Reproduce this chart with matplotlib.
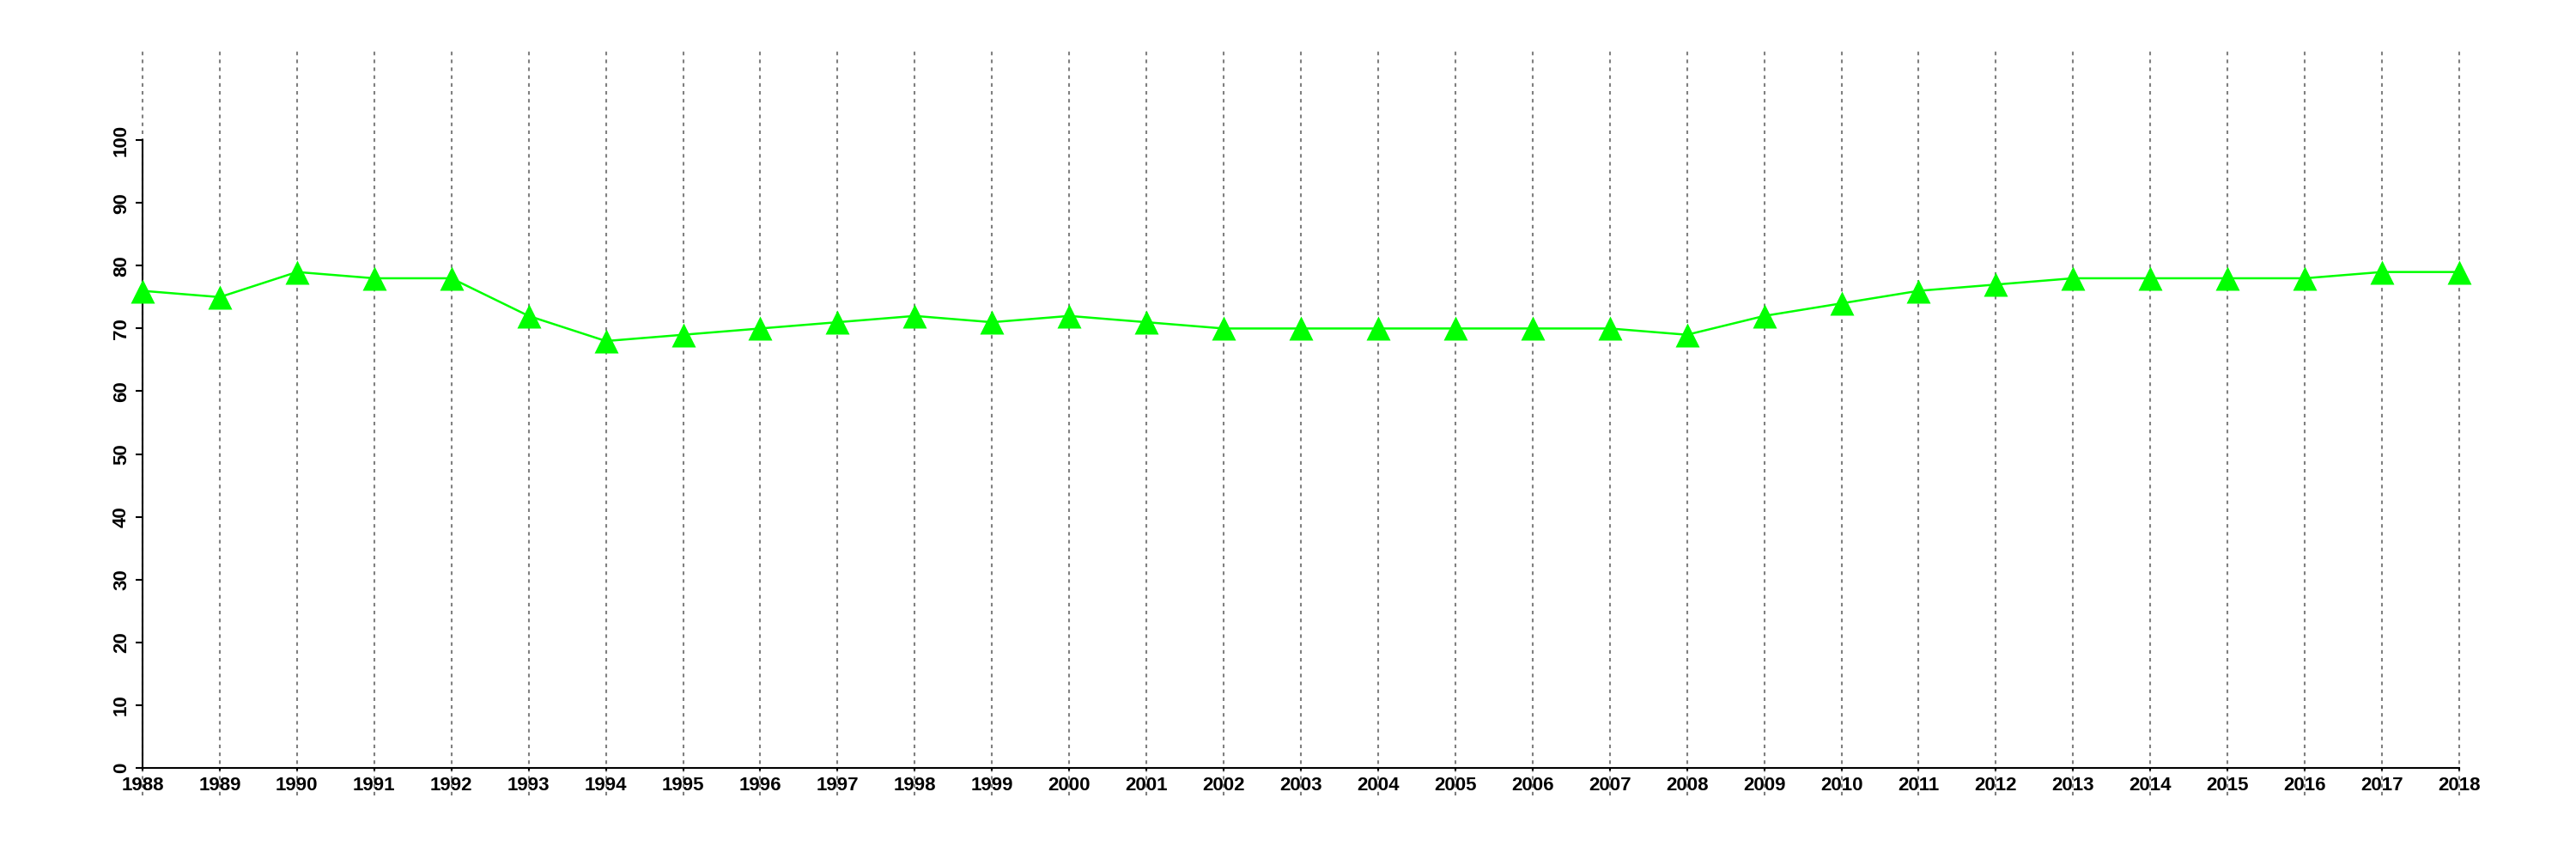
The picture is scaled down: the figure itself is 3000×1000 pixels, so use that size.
import matplotlib
matplotlib.use("Agg")
import matplotlib.pyplot as plt

years = list(range(1988, 2019))
values = [76, 75, 79, 78, 78, 72, 68, 69, 70, 71, 72, 71, 72, 71, 70, 70,
          70, 70, 70, 70, 69, 72, 74, 76, 77, 78, 78, 78, 78, 79, 79]
yticks = list(range(0, 101, 10))

plt.rcParams['font.family'] = ['Liberation Sans', 'DejaVu Sans']

fig = plt.figure(figsize=(30, 10), dpi=100)
ax = fig.add_axes([166 / 3000, 0.074, (2864 - 166) / 3000, 0.868])

# dotted vertical guide lines at every year
for yr in years:
    ax.axvline(yr, color='#808080', lw=1.5, ls=(0, (2, 2.4)), zorder=1,
               clip_on=False)

ax.plot(years, values, color='#00ff00', lw=1.8, marker='^', ms=20,
        mec='none', mfc='#00ff00', clip_on=False, zorder=3)

ax.set_xlim(1988, 2018)
ax.set_ylim(-4.4, 114.4)

for s in ['top', 'right']:
    ax.spines[s].set_visible(False)
ax.spines['left'].set_bounds(0, 100)
ax.spines['bottom'].set_bounds(1988, 2018)
ax.spines['bottom'].set_position(('data', 0))
ax.spines['left'].set_linewidth(1.5)
ax.spines['bottom'].set_linewidth(1.5)

ax.set_xticks(years)
ax.set_xticklabels([str(y) for y in years], fontsize=16, fontweight='bold')
ax.set_yticks(yticks)
ax.set_yticklabels([str(v) for v in yticks], fontsize=16, fontweight='bold',
                   rotation=90, va='center')
ax.tick_params(axis='x', length=2, width=1.5, pad=5)
ax.tick_params(axis='y', length=6, width=1.5, pad=4)

fig.savefig('out.png', dpi=100)
